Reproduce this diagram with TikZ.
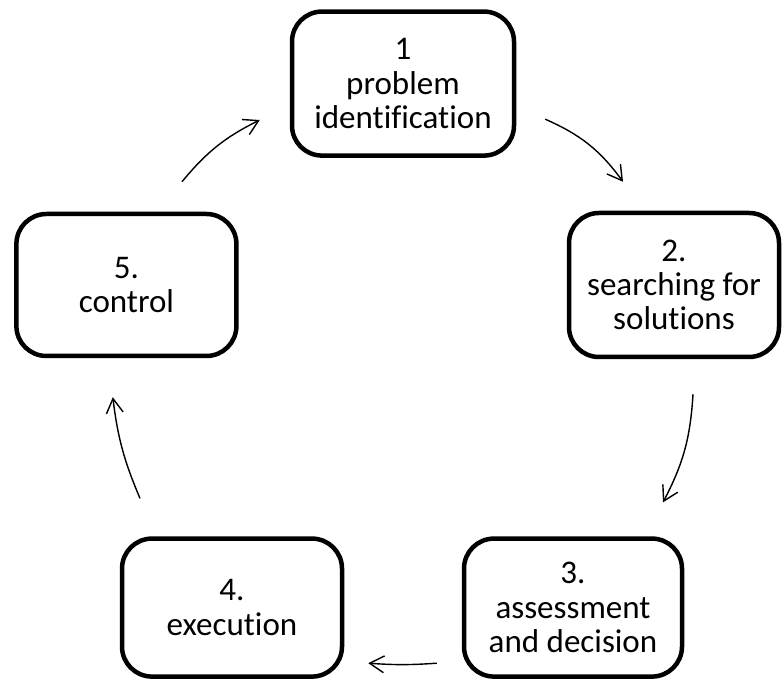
\documentclass[tikz,border=0pt]{standalone}
\usepackage{fontspec}
\setmainfont{Carlito}[Ligatures={NoCommon}]
\usetikzlibrary{arrows.meta}
\tikzset{
    stage/.style={draw, line width=3.2pt, rounded corners=0.75cm,
        align=center, inner sep=0pt, font=\fontsize{23.5}{24.4}\selectfont},
    cyclearrow/.style={->, line width=1pt},
    >={Straight Barb[length=3.6mm,width=4.2mm]}
}

\begin{document}
\begin{tikzpicture}
    \useasboundingbox (0,0) rectangle (19.55,17.1);
    % stages of the cycle
    \node[stage, minimum width=5.55cm, minimum height=3.6cm] (Identify) at (10.075,15.01) {1\\problem\\identification};
    \node[stage, minimum width=5.25cm, minimum height=3.6cm] (Search) at (16.85,9.975) {2.\\searching for\\solutions};
    \node[stage, minimum width=5.45cm, minimum height=3.45cm] (Assess) at (14.325,1.91) {3.\\assessment\\and decision};
    \node[stage, minimum width=5.5cm, minimum height=3.45cm] (Execute) at (5.8,1.91) {4.\\execution};
    \node[stage, minimum width=5.5cm, minimum height=3.55cm] (Control) at (3.16,9.975) {5.\\control};
    % arrows between them
    \draw[cyclearrow] ([shift={(0.725,-0.89)}]Identify.east) to[bend left=15] ([shift={(-1.275,0.725)}]Search.north);
    \draw[cyclearrow] ([shift={(0.475,-0.875)}]Search.south) to[bend left=12] ([shift={(2.25,0.85)}]Assess.north);
    \draw[cyclearrow] ([shift={(-0.625,-1.39)}]Assess.west) to[bend left=4] ([shift={(0.6,-1.39)}]Execute.east);
    \draw[cyclearrow] ([shift={(-2.3,0.95)}]Execute.north) to[bend left=8] ([shift={(-0.34,-0.975)}]Control.south);
    \draw[cyclearrow] ([shift={(1.39,0.75)}]Control.north) to[bend left=12] ([shift={(-0.75,-0.91)}]Identify.west);
\end{tikzpicture}
\end{document}
